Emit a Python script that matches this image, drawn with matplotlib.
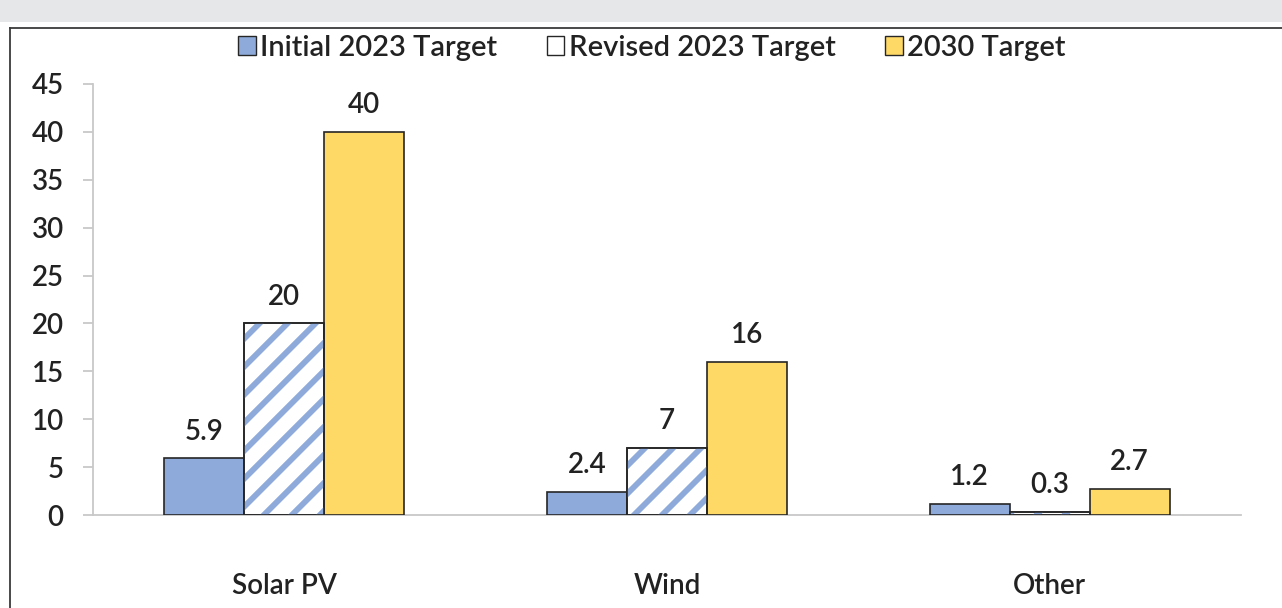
import matplotlib.pyplot as plt
import numpy as np
from matplotlib.patches import Rectangle, Patch
from matplotlib.transforms import IdentityTransform

## data
categories = ["Solar PV", "Wind", "Other"]
initial_2023 = [5.9, 2.4, 1.2]
revised_2023 = [20, 7, 0.3]
target_2030 = [40, 16, 2.7]
series_names = ["Initial 2023 Target", "Revised 2023 Target", "2030 Target"]
y_ticks = [0, 5, 10, 15, 20, 25, 30, 35, 40, 45]

## colours
blue = "#8eaadb"
gold = "#ffd966"
edge = "#262626"
txt = "#222222"

plt.rcParams['font.family'] = ['Lato', 'DejaVu Sans']
plt.rcParams['font.weight'] = 'semibold'

fig = plt.figure(figsize=(12.82, 6.08), dpi=100)

## grey strip at the top and the outer frame
fig.patches.append(Rectangle((0, 1 - 22 / 608), 1, 22 / 608, transform=fig.transFigure,
                             facecolor="#e6e7e9", edgecolor="none", zorder=0))
fig.add_artist(plt.Line2D([10 / 1282, 10 / 1282], [0, 1 - 28 / 608], transform=fig.transFigure,
                          color="#3a3a3a", lw=1.3))
fig.add_artist(plt.Line2D([10 / 1282, 1], [1 - 28 / 608, 1 - 28 / 608], transform=fig.transFigure,
                          color="#3a3a3a", lw=1.3))

ax = fig.add_axes([93 / 1282, 93 / 608, (1241 - 93) / 1282, (515 - 84) / 608])
ax.set_xlim(-0.5, 2.5)
ax.set_ylim(0, 45)

x = np.arange(len(categories))
w = 0.209

b1 = ax.bar(x - w, initial_2023, w, color=blue, edgecolor=edge, linewidth=1.2, zorder=3)
b2 = ax.bar(x, revised_2023, w, color="white", edgecolor=edge, linewidth=1.2, zorder=3)
b3 = ax.bar(x + w, target_2030, w, color=gold, edgecolor=edge, linewidth=1.2, zorder=3)

## wide diagonal stripes inside the revised bars, clipped to each bar
step = 28  # px between stripes, measured vertically
for rect in b2:
    (x0, y0), (x1, y1) = ax.transData.transform(
        [(rect.get_x(), 0), (rect.get_x() + rect.get_width(), rect.get_height())])
    span = (x1 - x0) + (y1 - y0)
    for c in np.arange(-span, span, step):
        ln = plt.Line2D([x0 - 8, x1 + 8], [y0 + c - 8, y0 + c + (x1 - x0) + 8],
                        transform=IdentityTransform(), color=blue, lw=4.2,
                        solid_capstyle="butt", zorder=3.5)
        ax.add_line(ln)
        ln.set_clip_path(rect)
    ax.add_patch(Rectangle(rect.get_xy(), rect.get_width(), rect.get_height(), fill=False,
                           edgecolor=edge, linewidth=1.2, zorder=4))

## value labels
for bars, vals in zip([b1, b2, b3], [initial_2023, revised_2023, target_2030]):
    for rect, v in zip(bars, vals):
        ax.annotate(f"{v:g}", (rect.get_x() + rect.get_width() / 2, v),
                    xytext=(0, 10), textcoords="offset points",
                    ha="center", va="bottom", fontsize=20, color=txt)

ax.set_yticks(y_ticks)
ax.set_xticks(x)
ax.set_xticklabels(categories)

for s in ["top", "right"]:
    ax.spines[s].set_visible(False)
ax.spines["left"].set_color("#c8c8c8")
ax.spines["bottom"].set_color("#c8c8c8")
ax.spines["left"].set_linewidth(1.3)
ax.spines["bottom"].set_linewidth(1.3)
ax.tick_params(axis="y", length=7, width=1.3, color="#c8c8c8", labelsize=20,
               labelcolor=txt, pad=14)
ax.tick_params(axis="x", length=0, labelsize=20, labelcolor=txt, pad=42)

## legend
handles = [Patch(facecolor=blue, edgecolor=edge),
           Patch(facecolor="white", edgecolor=edge),
           Patch(facecolor=gold, edgecolor=edge)]
fig.legend(handles, series_names, loc="center", bbox_to_anchor=(652 / 1282, 1 - 48 / 608),
           ncol=3, frameon=False, fontsize=21, handlelength=0.6, handleheight=0.6,
           handletextpad=0.15, columnspacing=1.7, labelcolor=txt)

fig.savefig("out.png", dpi=100)
